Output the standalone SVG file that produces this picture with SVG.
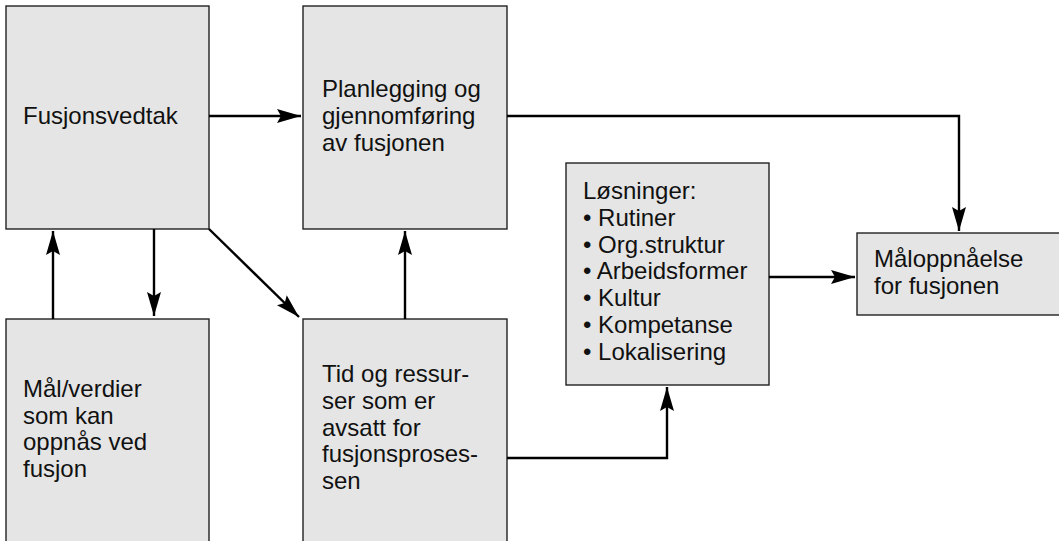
<svg xmlns="http://www.w3.org/2000/svg" width="1059" height="541" viewBox="0 0 1059 541">
<style>
.box{fill:#e5e5e5;stroke:#222;stroke-width:1.4}
.t{font-family:"Liberation Sans",Arial,sans-serif;font-size:24px;fill:#111}
.c{fill:none;stroke:#000;stroke-width:2.4;marker-end:url(#ah)}
</style>
<defs>
<marker id="ah" markerUnits="userSpaceOnUse" markerWidth="26" markerHeight="15" refX="24" refY="7" orient="auto">
<path d="M0,0 L24,7 L0,14 L4,7 z" fill="#000"/>
</marker>
</defs>
<rect width="1059" height="541" fill="#fff"/>
<g id="n1"><rect class="box" x="6" y="6" width="203" height="223"/>
<text class="t" x="23" y="124">Fusjonsvedtak</text></g>
<g id="n2"><rect class="box" x="303" y="6" width="204" height="223"/>
<text class="t" x="322" y="97">Planlegging og<tspan x="322" dy="27">gjennomføring</tspan><tspan x="322" dy="27">av fusjonen</tspan></text></g>
<g id="n3"><rect class="box" x="6" y="319" width="203" height="230"/>
<text class="t" x="23" y="397">Mål/verdier<tspan x="23" dy="26.7">som kan</tspan><tspan x="23" dy="26.7">oppnås ved</tspan><tspan x="23" dy="26.7">fusjon</tspan></text></g>
<g id="n4"><rect class="box" x="303" y="319" width="204" height="230"/>
<text class="t" x="322" y="382">Tid og ressur-<tspan x="322" dy="26.8">ser som er</tspan><tspan x="322" dy="26.8">avsatt for</tspan><tspan x="322" dy="26.8">fusjonsproses-</tspan><tspan x="322" dy="26.8">sen</tspan></text></g>
<g id="n5"><rect class="box" x="566" y="163" width="203" height="222"/>
<text class="t" x="583" y="199">Løsninger:<tspan x="583" dy="26.8">• Rutiner</tspan><tspan x="583" dy="26.8">• Org.struktur</tspan><tspan x="583" dy="26.8">• Arbeidsformer</tspan><tspan x="583" dy="26.8">• Kultur</tspan><tspan x="583" dy="26.8">• Kompetanse</tspan><tspan x="583" dy="26.8">• Lokalisering</tspan></text></g>
<g id="n6"><rect class="box" x="857" y="233" width="210" height="82"/>
<text class="t" x="874" y="267">Måloppnåelse<tspan x="874" dy="26.5">for fusjonen</tspan></text></g>
<g id="connectors">
<path class="c" d="M209,116 H301"/>
<path class="c" d="M53,319 V231"/>
<path class="c" d="M154,229 V316"/>
<path class="c" d="M209,229 L299,317"/>
<path class="c" d="M405,319 V231"/>
<path class="c" d="M507,116 H959 V231"/>
<path class="c" d="M769,277 H855"/>
<path class="c" d="M507,458 H667 V387"/>
</g>
</svg>
